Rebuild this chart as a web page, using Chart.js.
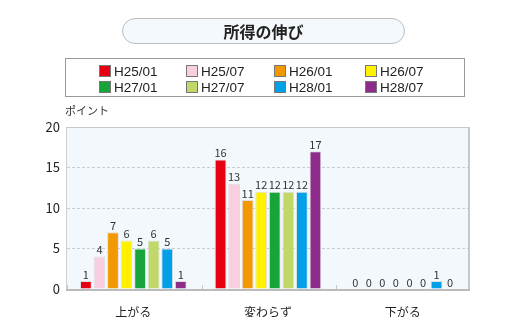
<!DOCTYPE html>
<html>
<head>
<meta charset="utf-8">
<script src="https://cdn.jsdelivr.net/npm/chart.js@4"></script>
<style>
  body { margin: 0; background: #fff; font-family: "Noto Sans CJK JP", sans-serif; }
  #wrap { position: relative; width: 520px; height: 327px; }
  #chart { position: absolute; left: 0; top: 0; }
  #title {
    position: absolute; left: 122px; top: 18px; width: 281px; height: 24px;
    border: 1px solid #bcbcbc; border-radius: 13px; background: #f3f9fc;
    text-align: center; font-weight: bold; font-size: 16px; line-height: 24px; color: #222;
  }
  #legend {
    position: absolute; left: 65px; top: 58px; width: 398px; height: 37px;
    border: 1px solid #999; background: #fff;
  }
  .item { position: absolute; font-family: "Liberation Sans", Arial, sans-serif; font-size: 13.5px; color: #222; line-height: 14px; }
  .item span.sw { display: inline-block; width: 10px; height: 10px; border: 1px solid #777; vertical-align: -1px; margin-right: 3px; }
</style>
</head>
<body>
<div id="wrap">
  <canvas id="chart" width="520" height="327"></canvas>
  <div id="title">所得の伸び</div>
  <div id="legend"></div>
</div>
<script>
const categories = ['上がる', '変わらず', '下がる'];
const periods = ['H25/01', 'H25/07', 'H26/01', 'H26/07', 'H27/01', 'H27/07', 'H28/01', 'H28/07'];
const colors = ['#e60012', '#f8cfe0', '#f39800', '#fff100', '#17a53b', '#bfd867', '#00a0e9', '#8e2c8c'];

// one array per period: [上がる, 変わらず, 下がる]
const h2501 = [1, 16, 0];
const h2507 = [4, 13, 0];
const h2601 = [7, 11, 0];
const h2607 = [6, 12, 0];
const h2701 = [5, 12, 0];
const h2707 = [6, 12, 0];
const h2801 = [5, 12, 1];
const h2807 = [1, 17, 0];
const seriesValues = [h2501, h2507, h2601, h2607, h2701, h2707, h2801, h2807];

const yTicks = [0, 5, 10, 15, 20];

// legend
const legend = document.getElementById('legend');
const colX = [33, 120, 208, 299];
const rowY = [6, 22];
periods.forEach((p, i) => {
    const el = document.createElement('div');
    el.className = 'item';
    el.style.left = colX[i % 4] + 'px';
    el.style.top = rowY[Math.floor(i / 4)] + 'px';
    el.innerHTML = '<span class="sw" style="background:' + colors[i] + '"></span>' + p;
    legend.appendChild(el);
});

const plotDecor = {
    id: 'plotDecor',
    beforeDraw(chart) {
        const { ctx, chartArea: a } = chart;
        ctx.save();
        ctx.fillStyle = '#f2f8fc';
        ctx.fillRect(a.left, a.top, a.right - a.left, a.bottom - a.top);
        ctx.restore();
    },
    afterDraw(chart) {
        const { ctx, chartArea: a } = chart;
        const x = chart.scales.x;
        ctx.save();
        // top and right border
        ctx.strokeStyle = '#c8c8c8';
        ctx.lineWidth = 1;
        ctx.beginPath();
        ctx.moveTo(a.left, a.top + 0.5);
        ctx.lineTo(a.right, a.top + 0.5);
        ctx.stroke();
        ctx.lineWidth = 2;
        ctx.beginPath();
        ctx.moveTo(a.right - 1, a.top);
        ctx.lineTo(a.right - 1, a.bottom);
        ctx.stroke();
        // bottom axis line
        ctx.strokeStyle = '#bbbbbb';
        ctx.lineWidth = 2;
        ctx.beginPath();
        ctx.moveTo(a.left, a.bottom + 1);
        ctx.lineTo(a.right, a.bottom + 1);
        ctx.stroke();
        // small category dividers
        ctx.lineWidth = 1;
        ctx.strokeStyle = '#c8c8c8';
        const w = (a.right - a.left) / categories.length;
        for (let i = 0; i < categories.length; i++) {
            const px = Math.round(x.getPixelForValue(i) - w / 2) + 1.5;
            ctx.beginPath();
            ctx.moveTo(px, a.bottom - 4);
            ctx.lineTo(px, a.bottom);
            ctx.stroke();
        }
        // y axis title
        ctx.fillStyle = '#333';
        ctx.font = '11px "Noto Sans CJK JP"';
        ctx.textAlign = 'left';
        ctx.textBaseline = 'middle';
        ctx.fillText('ポイント', 65, 111);
        // value labels
        ctx.font = '11px "Noto Sans CJK JP"';
        ctx.textAlign = 'center';
        ctx.textBaseline = 'bottom';
        ctx.fillStyle = '#333';
        chart.data.datasets.forEach((ds, i) => {
            chart.getDatasetMeta(i).data.forEach((bar, j) => {
                ctx.fillText(ds.data[j], bar.x, bar.y - 1);
            });
        });
        ctx.restore();
    }
};

new Chart(document.getElementById('chart'), {
    type: 'bar',
    data: {
        labels: categories,
        datasets: periods.map((p, i) => ({
            label: p,
            data: seriesValues[i],
            backgroundColor: colors[i],
            borderColor: '#dedede',
            borderWidth: 1,
            categoryPercentage: 0.805,
            barPercentage: 0.87
        }))
    },
    options: {
        responsive: false,
        animation: false,
        layout: { padding: { left: 30, right: 50, top: 127, bottom: 10 } },
        plugins: {
            legend: { display: false },
            tooltip: { enabled: false }
        },
        scales: {
            x: {
                grid: { display: false },
                border: { display: false },
                ticks: { color: '#222', font: { family: 'Noto Sans CJK JP', size: 12 }, padding: 8 },
                afterFit(s) { s.height = 28; }
            },
            y: {
                min: 0,
                max: 20,
                afterBuildTicks(s) { s.ticks = yTicks.map(v => ({ value: v })); },
                grid: {
                    drawTicks: false,
                    color: c => (c.tick.value === 0 || c.tick.value === 20) ? 'rgba(0,0,0,0)' : '#cccccc'
                },
                border: { display: true, color: '#d0d0d0', dash: [3, 2] },
                ticks: { color: '#222', font: { family: 'Noto Sans CJK JP', size: 13 }, padding: 6 },
                afterFit(s) { s.width = 36; }
            }
        }
    },
    plugins: [plotDecor]
});
</script>
</body>
</html>
